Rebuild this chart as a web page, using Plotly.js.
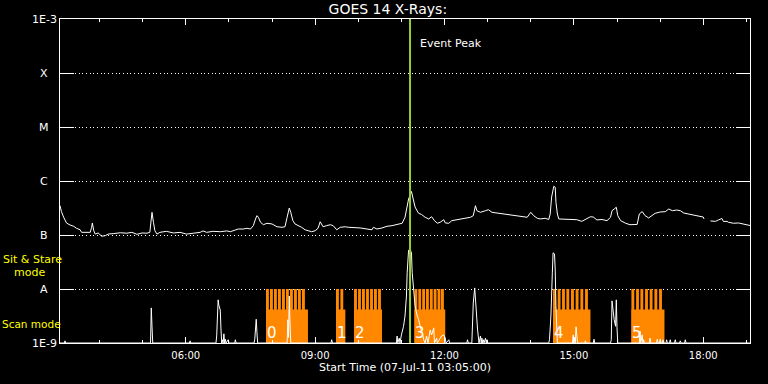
<!DOCTYPE html>
<html>
<head>
<meta charset="utf-8">
<script src="https://cdn.plot.ly/plotly-3.0.1.min.js"></script>
<style>html,body{margin:0;padding:0;background:#000;}#chart{width:768px;height:384px;}</style>
</head>
<body>
<div id="chart"></div>
<script>
// ---- data ----
const day = '2011-07-07 ';
const goesTimes = ['03:05','03:07','03:10','03:12','03:14','03:19','03:24','03:28','03:33','03:35','03:40','03:47','03:49','03:50','03:52','03:54','03:58','04:03','04:08','04:12','04:19','04:29','04:38','04:45','04:52','04:59','05:06','05:10','05:12','05:13','05:15','05:17','05:20','05:24','05:33','05:43','05:52','06:01','06:11','06:20','06:24','06:29','06:38','06:48','06:57','07:02','07:09','07:13','07:20','07:25','07:30','07:34','07:37','07:39','07:41','07:44','07:48','07:53','08:00','08:07','08:14','08:18','08:21','08:24','08:26','08:29','08:32','08:37','08:41','08:46','08:51','08:55','09:00','09:04','09:07','09:09','09:11','09:16','09:21','09:25','09:30','09:35','09:42','09:46','09:53','10:03','10:12','10:19','10:21','10:26','10:33','10:40','10:47','10:54','11:01','11:05','11:08','11:10','11:14','11:17','11:19','11:22','11:24','11:28','11:33','11:38','11:42','11:46','11:50','11:54','11:59','12:01','12:06','12:10','12:15','12:22','12:29','12:36','12:40','12:43','12:45','12:50','12:57','13:01','13:06','13:13','13:22','13:31','13:41','13:50','13:55','14:00','14:04','14:09','14:13','14:20','14:25','14:27','14:29','14:32','14:34','14:35','14:37','14:39','14:50','15:04','15:11','15:18','15:23','15:27','15:32','15:39','15:46','15:51','15:53','15:56','15:59','16:01','16:05','16:12','16:18','16:28','16:31','16:35','16:39','16:44','16:49','16:53','17:00','17:07','17:12','17:17','17:23','17:28','17:33','17:40','17:47','17:54','18:00','18:01','18:05','18:10','18:17','18:21','18:26','18:28','18:33','18:35','18:42','18:49','18:54','18:59','19:05'];
const goesFlux = [3.5e-7,2.7e-7,2.15e-7,1.84e-7,1.67e-7,1.53e-7,1.45e-7,1.33e-7,1.25e-7,1.12e-7,1.12e-7,1.12e-7,1.39e-7,1.67e-7,1.20e-7,1.04e-7,1.09e-7,9.5e-8,9.7e-8,1.04e-7,1.06e-7,1.10e-7,1.08e-7,1.12e-7,1.03e-7,1.09e-7,1.08e-7,1.12e-7,1.98e-7,2.63e-7,1.72e-7,1.20e-7,1.04e-7,1.12e-7,1.17e-7,1.09e-7,1.12e-7,1.04e-7,1.08e-7,1.12e-7,1.19e-7,1.12e-7,1.17e-7,1.15e-7,1.19e-7,1.15e-7,1.24e-7,1.29e-7,1.29e-7,1.33e-7,1.29e-7,1.49e-7,1.98e-7,2.28e-7,2.13e-7,1.72e-7,1.55e-7,1.65e-7,1.60e-7,1.42e-7,1.39e-7,1.42e-7,2.13e-7,3.16e-7,2.63e-7,1.84e-7,1.60e-7,1.49e-7,1.39e-7,1.25e-7,1.20e-7,1.15e-7,1.20e-7,1.33e-7,1.76e-7,1.60e-7,1.42e-7,1.49e-7,1.55e-7,1.49e-7,1.25e-7,1.39e-7,1.42e-7,1.39e-7,1.39e-7,1.35e-7,1.29e-7,1.25e-7,1.39e-7,1.29e-7,1.35e-7,1.45e-7,1.49e-7,1.55e-7,1.65e-7,2.13e-7,3.26e-7,4.64e-7,6.39e-7,4.45e-7,3.30e-7,2.78e-7,2.52e-7,2.40e-7,2.13e-7,1.98e-7,2.18e-7,1.84e-7,1.65e-7,1.72e-7,1.92e-7,1.67e-7,1.65e-7,1.84e-7,1.90e-7,1.94e-7,2.04e-7,2.13e-7,2.28e-7,3.49e-7,2.82e-7,2.63e-7,2.82e-7,2.94e-7,2.63e-7,2.55e-7,2.45e-7,2.38e-7,2.28e-7,2.22e-7,2.13e-7,2.63e-7,2.28e-7,2.04e-7,1.98e-7,2.04e-7,1.94e-7,2.45e-7,5.05e-7,7.97e-7,7.64e-7,4.03e-7,2.45e-7,1.98e-7,1.95e-7,1.92e-7,1.79e-7,1.98e-7,2.18e-7,2.15e-7,1.90e-7,1.94e-7,1.84e-7,2.13e-7,2.82e-7,3.03e-7,3.26e-7,2.28e-7,1.84e-7,1.65e-7,1.55e-7,1.57e-7,2.45e-7,2.72e-7,2.28e-7,2.07e-7,2.35e-7,2.52e-7,2.67e-7,2.70e-7,3.03e-7,2.82e-7,2.90e-7,2.82e-7,2.55e-7,2.45e-7,2.30e-7,2.22e-7,2.15e-7,1.98e-7,null,1.82e-7,1.79e-7,1.90e-7,2.02e-7,1.78e-7,1.79e-7,1.72e-7,1.65e-7,1.67e-7,1.60e-7,1.57e-7,1.50e-7];

// lower-panel derivative signal (arbitrary units, 1 = Sit & Stare level)
const lowTimes = ['03:05','03:11','03:12','03:13','05:11','05:12','05:13','05:14','06:05','06:06','06:07','06:42','06:43','06:45','06:46','06:48','06:49','06:50','06:51','06:52','06:53','06:54','06:55','06:56','06:59','07:00','07:08','07:09','07:10','07:35','07:36','07:38','07:39','07:40','08:21','08:22','08:23','08:24','08:25','08:26','09:22','09:23','09:24','10:53','10:54','10:55','10:57','10:58','11:00','11:03','11:05','11:07','11:08','11:10','11:12','11:14','11:15','11:17','11:19','11:22','11:24','11:26','11:29','11:31','11:33','11:35','11:37','11:40','11:42','11:45','11:46','11:49','11:50','11:54','11:56','11:59','12:01','12:02','12:06','12:07','12:31','12:32','12:33','12:38','12:39','12:40','12:42','12:44','12:46','12:48','12:50','12:51','12:52','12:53','12:54','12:55','12:57','12:58','12:59','13:00','14:25','14:26','14:28','14:30','14:31','14:33','14:34','14:35','14:36','14:37','14:58','14:59','15:00','15:01','15:02','15:03','15:04','15:05','15:15','15:16','15:17','15:27','15:28','15:29','15:51','15:52','15:53','15:54','15:56','15:58','15:59','16:00','16:01','16:31','16:32','16:33','16:35','16:36','16:37','16:38','16:45','16:46','16:47','16:55','16:56','16:57','16:59','17:00','17:01','17:03','17:04','17:05','17:08','17:09','17:10','17:13','17:14','17:15','17:20','17:21','17:22','17:27','17:28','17:29','17:34','17:35','17:36','19:05'];
const lowValues = [0,0,0.04,0,0,0.65,0.31,0,0,0.04,0,0,0.13,0.80,0.70,0.61,0.24,0,0.06,0,0.17,0,0.07,0,0.06,0,0,0.06,0,0,0.07,0.44,0.19,0,0,0.43,0.10,0.87,0.37,0,0,0.06,0,0,0.13,0,0.09,0,0.15,0.31,0.50,0.87,1.30,1.72,1.74,1.67,1.30,0.93,0.69,0.50,0.43,0.31,0.19,0.06,0,0.13,0,0.24,0.15,0.28,0,0.09,0,0.09,0.13,0.15,0.09,0,0.06,0,0,0.06,0,0,0.41,0.74,1.02,0.50,0.24,0,0.13,0,0.09,0,0.06,0,0.09,0,0.06,0,0,0.06,0.50,1.30,1.67,1.65,1.35,0.69,0.19,0,0,0.15,0,0.11,0,0.30,0.15,0,0,0.04,0,0,0.07,0,0,0.06,0.78,0.61,0.43,0.31,0.80,0.28,0,0,0.22,0,0.15,0,0.06,0,0,0.09,0,0,0.07,0,0,0.07,0,0,0.06,0,0,0.06,0,0,0.06,0,0,0.06,0,0,0.04,0,0,0.06,0,0];

// observation blocks
const blockLabels = ['0','1','2','3','4','5'];
const blockStart = ['07:52','09:29','09:54','11:18','14:31','16:20'];
const blockEnd   = ['08:50','09:42','10:33','12:01','15:23','17:06'];
const stripeTimes = ['07:53:36','07:59:12','08:04:42','08:10:18','08:15:54','08:21:24','08:27:00','08:32:36','08:38:06','08:43:42',
  '09:31:00','09:37:06',
  '09:56:06','10:01:42','10:07:12','10:12:48','10:18:24','10:23:54','10:29:30',
  '11:20:12','11:25:30','11:30:54','11:36:12','11:41:36','11:46:54','11:52:18','11:57:06',
  '14:33:00','14:39:24','14:45:30','14:51:30','14:58:00','15:04:24','15:11:00','15:17:30',
  '16:22:00','16:28:30','16:34:30','16:41:00','16:47:24','16:54:00','17:00:30'];
const scanLevel = 0.62;
const sitStareLevel = 1.0;
const eventPeak = '11:12';

const tickVals = [1e-9,1e-8,1e-7,1e-6,1e-5,1e-4,1e-3];
const tickLabels = ['1E-9','A','B','C','M','X','1E-3'];

// ---- helpers ----
const toMs = s => { const p = s.split(':').map(Number); return Date.UTC(2011,6,7,p[0],p[1],p[2]||0); };
const fmt = ms => new Date(ms).toISOString().replace('T',' ').slice(0,19);
const full = s => fmt(toMs(s));

const FONT = 'DejaVu Sans, Liberation Sans, sans-serif';
const ORANGE = '#ff8800';
const Y2MAX = 6;

const traces = [
  { type:'bar', x: blockStart.map((s,i)=>fmt((toMs(s)+toMs(blockEnd[i]))/2)),
    width: blockStart.map((s,i)=>toMs(blockEnd[i])-toMs(s)),
    y: blockStart.map(()=>scanLevel), base: 0, yaxis:'y2',
    marker:{color:ORANGE, line:{width:0}}, hoverinfo:'skip', name:'Scan mode' },
  { type:'bar', x: stripeTimes.map(full), width: stripeTimes.map(()=>240000),
    y: stripeTimes.map(()=>sitStareLevel), base: 0, yaxis:'y2',
    marker:{color:ORANGE, line:{width:0}}, hoverinfo:'skip', name:'Sit & Stare' },
  { type:'scatter', mode:'lines', x: lowTimes.map(full), y: lowValues, yaxis:'y2',
    line:{color:'#ffffff', width:1}, hoverinfo:'skip', name:'derivative' },
  { type:'scatter', mode:'lines', x: goesTimes.map(full), y: goesFlux, yaxis:'y',
    line:{color:'#ffffff', width:1}, connectgaps:false, name:'GOES 14' },
  { type:'scatter', mode:'lines', x:[full(eventPeak), full(eventPeak)], y:[0, Y2MAX], yaxis:'y2',
    line:{color:'#9acd32', width:2}, hoverinfo:'skip', name:'Event Peak' }
];

const annotations = [];
tickVals.forEach((v,i)=>annotations.push({
  xref:'paper', yref:'y', x:-16/690, y:Math.log10(v), xanchor:'center', yanchor:'middle',
  text:tickLabels[i], showarrow:false, font:{family:FONT, size:11, color:'#ffffff'}
}));
blockStart.forEach((s,i)=>annotations.push({
  xref:'x', yref:'paper', x:full(s), y:(343-333)/324, xanchor:'left', yanchor:'middle', xshift:-1,
  text:blockLabels[i], showarrow:false, font:{family:FONT, size:15, color:'#ffffff'}
}));
annotations.push({xref:'x', yref:'paper', x:full(eventPeak), y:1-(43-19)/324, xanchor:'left', yanchor:'middle', xshift:8,
  text:'Event Peak', showarrow:false, font:{family:FONT, size:11, color:'#ffffff'}});
annotations.push({xref:'paper', yref:'paper', x:(1-60)/690, y:1-(259-19)/324, xanchor:'left', yanchor:'middle',
  text:'Sit & Stare', showarrow:false, font:{family:FONT, size:11, color:'#ffff00'}});
annotations.push({xref:'paper', yref:'paper', x:(12-60)/690, y:1-(272-19)/324, xanchor:'left', yanchor:'middle',
  text:'mode', showarrow:false, font:{family:FONT, size:11, color:'#ffff00'}});
annotations.push({xref:'paper', yref:'paper', x:(0-60)/690, y:1-(324-19)/324, xanchor:'left', yanchor:'middle',
  text:'Scan mode', showarrow:false, font:{family:FONT, size:10.5, color:'#ffff00'}});

const layout = {
  width:768, height:384,
  paper_bgcolor:'#000000', plot_bgcolor:'#000000',
  margin:{l:60, r:18, t:19, b:41, autoexpand:false},
  showlegend:false, barmode:'overlay',
  title:{text:'GOES 14 X-Rays:', font:{family:FONT, size:14, color:'#ffffff'},
         x:0.505, xanchor:'center', xref:'container', y:1-9/384, yanchor:'middle', yref:'container'},
  xaxis:{type:'date', range:[full('03:05'), full('19:05')], tickformat:'%H:%M',
    tick0: full('00:00'), dtick: 3*3600000,
    ticks:'inside', ticklen:6, tickwidth:1, tickcolor:'#ffffff',
    minor:{dtick:3600000, tick0: full('00:00'), ticks:'inside', ticklen:3, tickwidth:1, tickcolor:'#ffffff', showgrid:false},
    showline:true, linecolor:'#ffffff', linewidth:1, mirror:'ticks',
    showgrid:false, zeroline:false, ticklabelstandoff:3,
    tickfont:{family:FONT, size:10, color:'#ffffff'},
    title:{text:'Start Time (07-Jul-11 03:05:00)', font:{family:FONT, size:11, color:'#ffffff'}, standoff:3}},
  yaxis:{type:'log', range:[-9,-3], tickvals:tickVals, showticklabels:false,
    ticks:'inside', ticklen:14, tickwidth:1, tickcolor:'#ffffff',
    showline:true, linecolor:'#ffffff', linewidth:1, mirror:'ticks',
    showgrid:true, gridcolor:'#ffffff', gridwidth:1, griddash:'1px,2.7px', zeroline:false},
  yaxis2:{overlaying:'y', range:[0,Y2MAX], visible:false, showgrid:false, zeroline:false},
  annotations: annotations
};

Plotly.newPlot('chart', traces, layout, {staticPlot:true, displayModeBar:false});
</script>
</body>
</html>
